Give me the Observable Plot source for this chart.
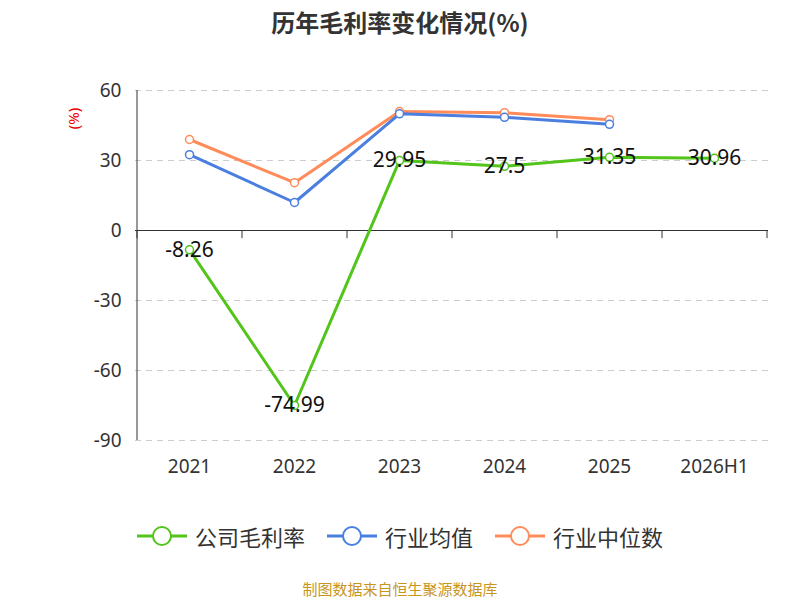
<!DOCTYPE html>
<html><head><meta charset="utf-8">
<script src="https://cdn.jsdelivr.net/npm/d3@7"></script>
<script src="https://cdn.jsdelivr.net/npm/@observablehq/plot@0.6"></script>
<style>
body{margin:0;width:800px;height:600px;position:relative;font-family:"Noto Sans CJK SC","Noto Sans",sans-serif;background:#fff}
#t{position:absolute;top:4px;width:800px;text-align:center;font-size:24px;font-weight:bold;color:#333}
#lg{position:absolute;top:520px;width:800px;display:flex;justify-content:center;gap:22px;font-size:22px;color:#333}
#lg span{display:flex;align-items:center;gap:8px}
#src{position:absolute;top:578px;width:800px;text-align:center;font-size:15px;color:#c8961e}
#c{position:absolute;top:0;left:0}
</style></head><body>
<div id="c"></div>
<div id="t">历年毛利率变化情况(%)</div>
<div id="lg"></div>
<div id="src">制图数据来自恒生聚源数据库</div>
<script>
const years=["2021","2022","2023","2024","2025","2026H1"];
const company=[-8.26,-74.99,29.95,27.5,31.35,30.96];
const industryAvg=[32.5,12,50,48.5,45.5];
const industryMedian=[39,20.5,51,50.5,47.5];
const yTicks=[60,30,0,-30,-60,-90];
const names=["公司毛利率","行业均值","行业中位数"];
const colors=["#52c41a","#4a7fe0","#ff8c5a"];
const comp=years.map((x,i)=>({x,y:company[i]}));
const avg=industryAvg.map((y,i)=>({x:years[i],y}));
const med=industryMedian.map((y,i)=>({x:years[i],y}));
const fmt=d=>String(d);
const chart=Plot.plot({
 width:800,height:600,marginLeft:135,marginRight:32,marginTop:90,marginBottom:160,
 style:{fontFamily:"Noto Sans, sans-serif",fontSize:"19px",color:"#333"},
 x:{type:"point",domain:years,padding:0.5,axis:null},
 y:{domain:[-90,60],ticks:yTicks,axis:null},
 marks:[
  Plot.ruleY(yTicks.filter(d=>d!==0),{stroke:"#ccc",strokeDasharray:"6,5"}),
  Plot.ruleX([years[0]],{x:d=>d,dx:-52.5,y1:-90,y2:60,stroke:"#333"}),
  Plot.text(yTicks,{y:d=>d,x:()=>years[0],dx:-68,text:fmt,textAnchor:"end",fontSize:19,fill:"#333"}),
  Plot.ruleY([0],{stroke:"#333"}),
  Plot.ruleX(years,{x:d=>d,dx:-52.5,y1:0,y2:-3.5,stroke:"#333"}),
  Plot.ruleX([years[5]],{x:d=>d,dx:52.5,y1:0,y2:-3.5,stroke:"#333"}),
  Plot.text(years,{x:d=>d,y:-90,dy:26,text:d=>d,fontSize:19,fill:"#333"}),
  Plot.text(["(%)"],{x:()=>years[0],y:48,dx:-115,text:d=>d,rotate:-90,fill:"#e00",fontSize:15}),
  Plot.line(med,{x:"x",y:"y",stroke:colors[2],strokeWidth:3}),
  Plot.dot(med,{x:"x",y:"y",r:4,fill:"#fff",stroke:colors[2],strokeWidth:1.5}),
  Plot.line(avg,{x:"x",y:"y",stroke:colors[1],strokeWidth:3}),
  Plot.dot(avg,{x:"x",y:"y",r:4,fill:"#fff",stroke:colors[1],strokeWidth:1.5}),
  Plot.line(comp,{x:"x",y:"y",stroke:colors[0],strokeWidth:3}),
  Plot.dot(comp,{x:"x",y:"y",r:4,fill:"#fff",stroke:colors[0],strokeWidth:1.5}),
  Plot.text(comp,{x:"x",y:"y",text:d=>String(d.y),fontSize:21,fill:"#111"})
 ]
});
document.getElementById("c").appendChild(chart);
const lg=document.getElementById("lg");
names.forEach((n,i)=>{
 const s=document.createElement("span");
 s.innerHTML=`<svg width="50" height="24"><line x1="0" y1="12" x2="50" y2="12" stroke="${colors[i]}" stroke-width="3"/><circle cx="25" cy="12" r="9" fill="#fff" stroke="${colors[i]}" stroke-width="2"/></svg>${n}`;
 lg.appendChild(s);
});
</script></body></html>
